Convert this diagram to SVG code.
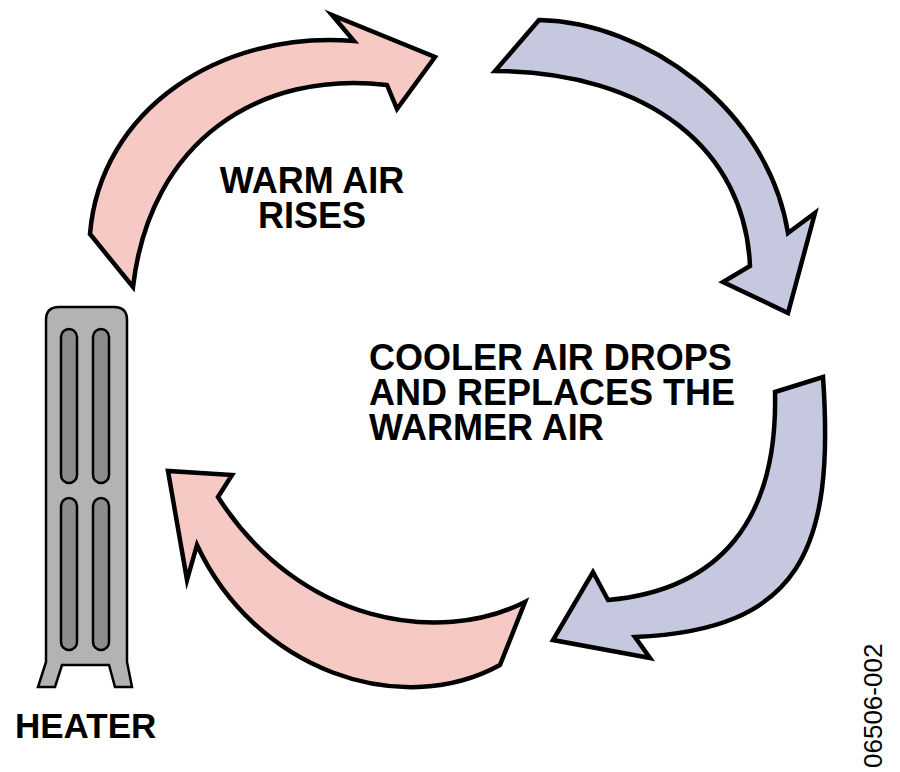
<svg xmlns="http://www.w3.org/2000/svg" width="900" height="772" viewBox="0 0 900 772">
<style>
.warm{fill:#f6c9c5;stroke:#000;stroke-width:4.5;stroke-linejoin:miter;stroke-miterlimit:10}
.cool{fill:#c5c8de;stroke:#000;stroke-width:4.5;stroke-linejoin:miter;stroke-miterlimit:10}
.body{fill:#b3b3b3;stroke:#000;stroke-width:2.5;stroke-linejoin:miter}
.slot{fill:#8c8c8c;stroke:#000;stroke-width:2.5}
.lbl{font-family:"Liberation Sans",Arial,sans-serif;font-weight:bold;font-size:36px;fill:#000}
.code{font-family:"Liberation Sans",Arial,sans-serif;font-size:26px;fill:#000}
</style>
<rect width="900" height="772" fill="#fff"/>
<g id="connectors">
<path id="arrow-warm-rises" class="warm" d="M90,234 C100,110 220,30 354,41 L332,15 L435,57 L397,109 L387,85 C260,70 150,140 133,287 Z"/>
<path id="arrow-cool-top" class="cool" d="M539,20 C645,22 768,108 788,233 L815,213 L788,313 L723,282 L750,266 C745,150 650,72 495,71 Z"/>
<path id="arrow-cool-drops" class="cool" d="M775,392 L823,377 C835,550 800,630 635,637 L650,658 L553,640 L593,572 L608,600 C720,590 778,520 775,392 Z"/>
<path id="arrow-warm-bottom" class="warm" d="M525,602 C440,645 300,625 218,497 L232,475 L168,471 L187,580 L197,545 C255,670 400,720 500,665 Z"/>
</g>
<g id="heater">
<path class="body" d="M46,662 L46,320 Q46,307 59,307 L114,307 Q127,307 127,320 L127,662 L132,687 L115,687 L109,665 L62,665 L55,687 L38,687 Z"/>
<rect class="slot" x="61" y="329" width="16" height="154" rx="8"/>
<rect class="slot" x="93" y="329" width="16" height="154" rx="8"/>
<rect class="slot" x="61" y="498" width="16" height="152" rx="8"/>
<rect class="slot" x="93" y="498" width="16" height="152" rx="8"/>
<text class="lbl" x="15" y="738" style="font-size:35px">HEATER</text>
</g>
<g id="label-warm">
<text class="lbl" text-anchor="middle"><tspan x="312" y="193">WARM AIR</tspan><tspan x="312" y="228">RISES</tspan></text>
</g>
<g id="label-cool">
<text class="lbl"><tspan x="369" y="370">COOLER AIR DROPS</tspan><tspan x="369" y="405">AND REPLACES THE</tspan><tspan x="369" y="440">WARMER AIR</tspan></text>
</g>
<text class="code" transform="translate(882,768) rotate(-90)">06506-002</text>
</svg>
